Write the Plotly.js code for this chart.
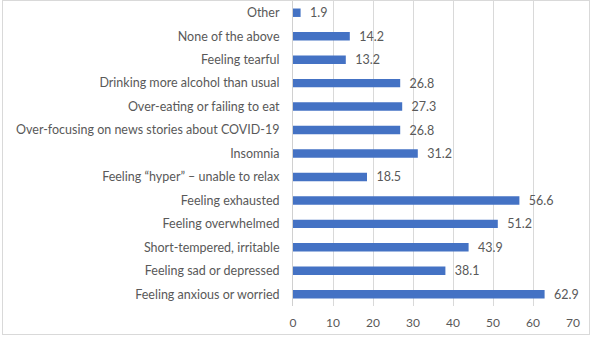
<!DOCTYPE html>
<html><head><meta charset="utf-8">
<script src="https://cdn.plot.ly/plotly-3.0.1.min.js"></script>
<style>
html,body{margin:0;padding:0;background:#fff;}
#frame{position:absolute;left:2px;top:0;width:588px;height:335px;border:1px solid #d9d9d9;box-sizing:border-box;pointer-events:none;}
#chart{position:absolute;left:0;top:0;width:593px;height:338px;}
</style></head>
<body>
<div id="chart"></div>
<div id="frame"></div>
<script>
const categories = [
  "Feeling anxious or worried",
  "Feeling sad or depressed",
  "Short-tempered, irritable",
  "Feeling overwhelmed",
  "Feeling exhausted",
  "Feeling \u201chyper\u201d \u2013 unable to relax",
  "Insomnia",
  "Over-focusing on news stories about COVID-19",
  "Over-eating or failing to eat",
  "Drinking more alcohol than usual",
  "Feeling tearful",
  "None of the above",
  "Other"
];
const values = [62.9, 38.1, 43.9, 51.2, 56.6, 18.5, 31.2, 26.8, 27.3, 26.8, 13.2, 14.2, 1.9];
const xTicks = [0, 10, 20, 30, 40, 50, 60, 70];

const fontFam = "Lato, 'Open Sans', sans-serif";
const trace = {
  type: 'bar',
  orientation: 'h',
  y: categories,
  x: values,
  width: 0.36,
  marker: {color: '#4472C4'},
  text: values.map(v => '\u00a0\u00a0' + v.toFixed(1)),
  textposition: 'outside',
  constraintext: 'none',
  textfont: {family: fontFam, size: 12.5, color: '#595959'},
  cliponaxis: false,
  hoverinfo: 'none'
};
const layout = {
  width: 593, height: 338,
  margin: {l: 293, r: 20, t: 1, b: 32},
  paper_bgcolor: '#fff', plot_bgcolor: '#fff',
  showlegend: false,
  font: {family: fontFam, size: 12.5, color: '#595959'},
  xaxis: {
    range: [0, 70], tickvals: xTicks, ticktext: xTicks.map(String),
    showgrid: true, gridcolor: '#d9d9d9', gridwidth: 1,
    zeroline: false, showline: false,
    ticks: 'outside', ticklen: 6, tickcolor: 'rgba(0,0,0,0)',
    tickfont: {family: fontFam, size: 12, color: '#595959'}
  },
  yaxis: {
    type: 'category', categoryorder: 'array', categoryarray: categories,
    range: [-0.5, categories.length - 0.5],
    showgrid: false, zeroline: false,
    showline: true, linecolor: '#d0d0d0', linewidth: 1,
    ticks: 'outside', ticklen: 10, tickcolor: 'rgba(0,0,0,0)',
    tickfont: {family: fontFam, size: 12.5, color: '#595959'}
  }
};
Plotly.newPlot('chart', [trace], layout, {displayModeBar: false, staticPlot: true});
</script>
</body></html>
